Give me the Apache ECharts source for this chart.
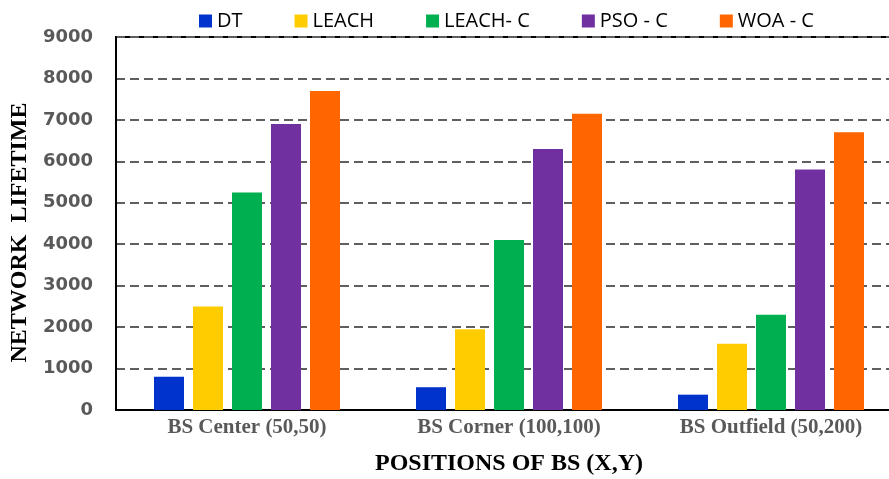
<!DOCTYPE html>
<html>
<head>
<meta charset="utf-8">
<script src="https://cdn.jsdelivr.net/npm/echarts@6/dist/echarts.min.js"></script>
<style>html,body{margin:0;padding:0;background:#fff}#c{width:889px;height:479px}</style>
</head>
<body>
<div id="c"></div>
<script>
var categories = ['BS Center (50,50)', 'BS Corner (100,100)', 'BS Outfield (50,200)'];
var seriesNames = ['DT', 'LEACH', 'LEACH- C', 'PSO - C', 'WOA - C'];
var dtValues = [800, 550, 370];
var leachValues = [2500, 1950, 1600];
var leachCValues = [5250, 4100, 2300];
var psoCValues = [6900, 6300, 5800];
var woaCValues = [7700, 7150, 6700];
var yTicks = [0, 1000, 2000, 3000, 4000, 5000, 6000, 7000, 8000, 9000];
var colors = ['#0033CC', '#FFCC00', '#00B050', '#7030A0', '#FF6600'];

var allValues = [dtValues, leachValues, leachCValues, psoCValues, woaCValues];
var chart = echarts.init(document.getElementById('c'));
chart.setOption({
  animation: false,
  backgroundColor: '#fff',
  legend: {
    left: 194, top: 6,
    itemWidth: 13, itemHeight: 13, itemGap: 52,
    icon: 'rect',
    textStyle: { fontFamily: 'Open Sans', fontSize: 20, color: '#000' },
    data: seriesNames
  },
  grid: {
    left: 116, top: 37, bottom: 69, right: -13,
    containLabel: false,
    outerBoundsMode: 'none',
    show: true, borderColor: '#000', borderWidth: 2
  },
  xAxis: {
    type: 'category',
    data: categories,
    axisTick: { show: false },
    axisLine: { lineStyle: { color: '#000', width: 2 } },
    axisLabel: { margin: 7, fontFamily: 'Liberation Serif', fontWeight: 'bold', fontSize: 21, color: '#595959' },
    name: 'POSITIONS OF BS (X,Y)',
    nameLocation: 'middle',
    nameGap: 42,
    nameTextStyle: { fontFamily: 'Liberation Serif', fontWeight: 'bold', fontSize: 24, color: '#000' }
  },
  yAxis: {
    type: 'value',
    min: yTicks[0], max: yTicks[yTicks.length - 1], interval: 1000,
    axisLine: { show: true, lineStyle: { color: '#000', width: 2 } },
    axisTick: { show: false },
    axisLabel: {
      margin: 23, fontFamily: 'DejaVu Sans', fontWeight: 'bold', fontSize: 18, color: '#595959',
      formatter: function (v) { return String(v); }
    },
    splitLine: { lineStyle: { color: '#5f5f5f', width: 1.8, type: [9, 5] } },
    name: 'NETWORK  LIFETIME',
    nameLocation: 'middle',
    nameGap: 80,
    nameTextStyle: { fontFamily: 'Liberation Serif', fontWeight: 'bold', fontSize: 24, color: '#000', padding: [0, 18, 0, 0] }
  },
  series: seriesNames.map(function (n, i) {
    return {
      name: n, type: 'bar', data: allValues[i],
      barWidth: 30, barGap: '30%',
      itemStyle: { color: colors[i] }
    };
  })
});
</script>
</body>
</html>
